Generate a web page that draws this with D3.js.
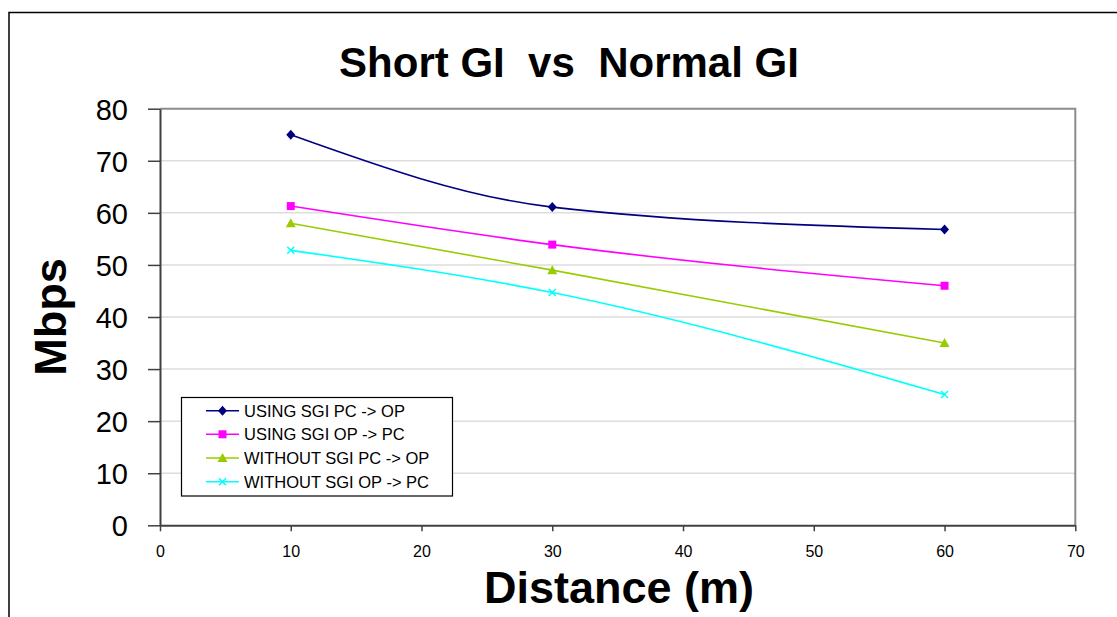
<!DOCTYPE html>
<html>
<head>
<meta charset="utf-8">
<script src="https://cdn.jsdelivr.net/npm/d3@7"></script>
<style>
  html, body { margin: 0; padding: 0; background: #fff; }
  svg { display: block; font-family: "Liberation Sans", Arial, sans-serif; }
</style>
</head>
<body>
<svg id="chart" width="1117" height="617"></svg>
<script>
// Throughput measurements (Mbps) at each distance (m)
const distances = [10, 30, 60];
const seriesNames = [
  "USING SGI PC -> OP",
  "USING SGI OP -> PC",
  "WITHOUT SGI PC -> OP",
  "WITHOUT SGI OP -> PC"
];
const usingSgiPcOp = [75.0, 61.1, 56.8];
const usingSgiOpPc = [61.3, 53.9, 46.0];
const withoutSgiPcOp = [58.0, 49.0, 35.0];
const withoutSgiOpPc = [52.8, 44.7, 25.1];
const xTicks = [0, 10, 20, 30, 40, 50, 60, 70];
const yTicks = [0, 10, 20, 30, 40, 50, 60, 70, 80];

const seriesValues = [usingSgiPcOp, usingSgiOpPc, withoutSgiPcOp, withoutSgiOpPc];
const colors = ["#000080", "#ff00ff", "#99cc00", "#00ffff"];
const markers = ["diamond", "square", "triangle", "cross"];

const svg = d3.select("#chart");
const W = 1117, H = 617;
const plot = { left: 160, top: 108.7, right: 1075.3, bottom: 525.3 };

const x = d3.scaleLinear().domain([0, 70]).range([plot.left, plot.right]);
const y = d3.scaleLinear().domain([0, 80]).range([plot.bottom, plot.top]);

// outer chart frame (only top and left edges fall inside the page)
svg.append("rect")
  .attr("x", 9).attr("y", 12.5)
  .attr("width", W + 20).attr("height", H + 20)
  .attr("fill", "#fff").attr("stroke", "#000").attr("stroke-width", 1.5);

// title
svg.append("text")
  .attr("x", 569).attr("y", 77)
  .attr("text-anchor", "middle")
  .style("white-space", "pre")
  .attr("font-size", 42).attr("font-weight", "bold")
  .text("Short GI  vs  Normal GI");

// gridlines
svg.append("g")
  .selectAll("line")
  .data(yTicks.filter(d => d > 0 && d < 80))
  .join("line")
  .attr("x1", plot.left).attr("x2", plot.right)
  .attr("y1", d => y(d)).attr("y2", d => y(d))
  .attr("stroke", "#dddddd").attr("stroke-width", 1.5);

// plot area top and right borders
svg.append("path")
  .attr("d", `M${plot.left},${plot.top}H${plot.right}V${plot.bottom}`)
  .attr("fill", "none").attr("stroke", "#8c8c8c").attr("stroke-width", 2);

// y axis
const yAxis = svg.append("g")
  .attr("transform", `translate(${plot.left},0)`)
  .call(d3.axisLeft(y).tickValues(yTicks).tickSize(12).tickPadding(20).tickSizeOuter(0));
yAxis.select(".domain").attr("stroke", "#404040").attr("stroke-width", 2);
yAxis.selectAll(".tick line").attr("stroke", "#404040").attr("stroke-width", 1.5);
yAxis.selectAll(".tick text")
  .attr("font-size", 29).attr("fill", "#000")
  .attr("font-family", "'Liberation Sans', Arial, sans-serif")
  .attr("dy", "0.36em");

// x axis
const xAxis = svg.append("g")
  .attr("transform", `translate(0,${plot.bottom})`)
  .call(d3.axisBottom(x).tickValues(xTicks).tickSize(6).tickPadding(14).tickSizeOuter(0));
xAxis.select(".domain").attr("stroke", "#404040").attr("stroke-width", 2);
xAxis.selectAll(".tick line").attr("stroke", "#404040").attr("stroke-width", 1.5);
xAxis.selectAll(".tick text")
  .attr("font-size", 16).attr("fill", "#000")
  .attr("font-family", "'Liberation Sans', Arial, sans-serif");

// axis titles
svg.append("text")
  .attr("x", 619).attr("y", 603)
  .attr("text-anchor", "middle")
  .attr("font-size", 45).attr("font-weight", "bold")
  .text("Distance (m)");

svg.append("text")
  .attr("transform", "translate(66,317) rotate(-90)")
  .attr("text-anchor", "middle")
  .attr("font-size", 45).attr("font-weight", "bold")
  .text("Mbps");

// marker shapes
function drawMarker(g, type, color, cx, cy) {
  if (type === "diamond") {
    g.append("path")
      .attr("d", `M${cx},${cy - 5}L${cx + 4.5},${cy}L${cx},${cy + 5}L${cx - 4.5},${cy}Z`)
      .attr("fill", color);
  } else if (type === "square") {
    g.append("rect")
      .attr("x", cx - 4).attr("y", cy - 4).attr("width", 8).attr("height", 8)
      .attr("fill", color);
  } else if (type === "triangle") {
    g.append("path")
      .attr("d", `M${cx},${cy - 5}L${cx + 5},${cy + 4}L${cx - 5},${cy + 4}Z`)
      .attr("fill", color);
  } else {
    g.append("path")
      .attr("d", `M${cx - 3.5},${cy - 3.5}L${cx + 3.5},${cy + 3.5}M${cx + 3.5},${cy - 3.5}L${cx - 3.5},${cy + 3.5}`)
      .attr("stroke", color).attr("stroke-width", 1.5);
  }
}

// series lines (smoothed) and markers
const line = d3.line()
  .x(d => x(d[0])).y(d => y(d[1]))
  .curve(d3.curveMonotoneX);

const seriesG = svg.append("g");
seriesValues.forEach((vals, i) => {
  const pts = distances.map((d, j) => [d, vals[j]]);
  seriesG.append("path")
    .attr("d", line(pts))
    .attr("fill", "none")
    .attr("stroke", colors[i]).attr("stroke-width", 1.6);
  const mg = seriesG.append("g");
  pts.forEach(p => drawMarker(mg, markers[i], colors[i], x(p[0]), y(p[1])));
});

// legend
const legend = svg.append("g");
legend.append("rect")
  .attr("x", 181.5).attr("y", 397.5).attr("width", 271).attr("height", 98.5)
  .attr("fill", "#fff").attr("stroke", "#000").attr("stroke-width", 1.2);
const rowY = [410.7, 434.3, 458.0, 481.7];
seriesNames.forEach((name, i) => {
  const ly = rowY[i];
  legend.append("line")
    .attr("x1", 206).attr("x2", 239).attr("y1", ly).attr("y2", ly)
    .attr("stroke", colors[i]).attr("stroke-width", 1.6);
  drawMarker(legend, markers[i], colors[i], 222.5, ly);
  legend.append("text")
    .attr("x", 244).attr("y", ly).attr("dy", "0.36em")
    .attr("font-size", 16.5).attr("fill", "#000")
    .text(name);
});
</script>
</body>
</html>
